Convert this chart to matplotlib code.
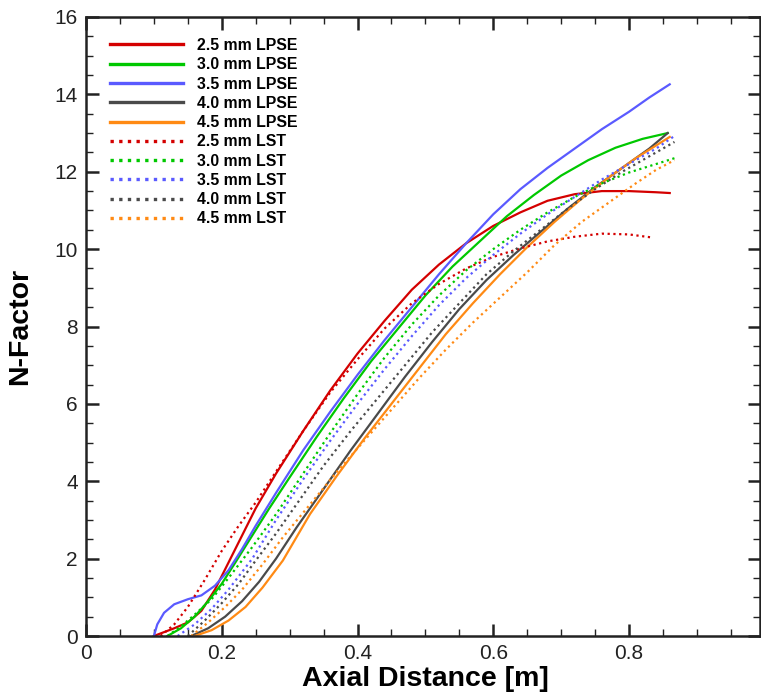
import matplotlib
matplotlib.use("Agg")

import matplotlib.pyplot as plt
from matplotlib.ticker import MultipleLocator

plt.rcParams["font.family"] = ["Liberation Sans", "DejaVu Sans"]

# ---- data (x in m, N-factor) ----
labels = ["2.5 mm", "3.0 mm", "3.5 mm", "4.0 mm", "4.5 mm"]
colors = ["#d40000", "#00c800", "#5a5aff", "#4a4a4a", "#ff8a14"]

# LPSE (solid)
lpse_x = [
    [0.10, 0.13, 0.15, 0.17, 0.19, 0.21, 0.23, 0.25, 0.28, 0.32, 0.36, 0.40, 0.44,
     0.48, 0.52, 0.56, 0.60, 0.64, 0.68, 0.72, 0.76, 0.80, 0.84, 0.86],
    [0.12, 0.14, 0.16, 0.18, 0.20, 0.22, 0.245, 0.27, 0.30, 0.34, 0.38, 0.42, 0.46,
     0.50, 0.54, 0.58, 0.62, 0.66, 0.70, 0.74, 0.78, 0.82, 0.857],
    [0.10, 0.105, 0.115, 0.13, 0.15, 0.17, 0.19, 0.21, 0.23, 0.25, 0.28, 0.32, 0.36,
     0.40, 0.44, 0.48, 0.52, 0.56, 0.60, 0.64, 0.68, 0.72, 0.76, 0.80, 0.83, 0.86],
    [0.155, 0.18, 0.205, 0.23, 0.255, 0.28, 0.31, 0.35, 0.39, 0.43, 0.47, 0.51, 0.55,
     0.59, 0.63, 0.67, 0.71, 0.75, 0.79, 0.83, 0.857],
    [0.16, 0.185, 0.21, 0.235, 0.26, 0.29, 0.33, 0.37, 0.41, 0.45, 0.49, 0.53, 0.57,
     0.61, 0.65, 0.69, 0.73, 0.77, 0.81, 0.86],
]
lpse_n = [
    [0.0, 0.2, 0.35, 0.65, 1.2, 1.9, 2.6, 3.3, 4.2, 5.3, 6.35, 7.3, 8.15,
     8.95, 9.6, 10.15, 10.6, 10.95, 11.25, 11.42, 11.5, 11.5, 11.47, 11.45],
    [0.0, 0.2, 0.5, 0.9, 1.35, 1.9, 2.6, 3.3, 4.1, 5.15, 6.15, 7.1, 7.95,
     8.8, 9.55, 10.2, 10.85, 11.4, 11.9, 12.3, 12.62, 12.85, 13.0],
    [0.0, 0.3, 0.6, 0.82, 0.95, 1.05, 1.3, 1.7, 2.25, 2.85, 3.7, 4.8, 5.8,
     6.75, 7.65, 8.5, 9.35, 10.15, 10.9, 11.55, 12.1, 12.6, 13.1, 13.55, 13.92, 14.26],
    [0.0, 0.2, 0.5, 0.9, 1.4, 2.0, 2.8, 3.8, 4.8, 5.75, 6.7, 7.6, 8.45,
     9.2, 9.85, 10.45, 11.05, 11.6, 12.1, 12.6, 13.0],
    [0.0, 0.15, 0.4, 0.75, 1.25, 1.95, 3.15, 4.15, 5.1, 6.0, 6.9, 7.8, 8.6,
     9.35, 10.05, 10.7, 11.3, 11.85, 12.35, 12.9],
]

# LST (dotted)
lst_x = [
    [0.11, 0.13, 0.15, 0.175, 0.20, 0.225, 0.25, 0.28, 0.32, 0.36, 0.40, 0.44, 0.48,
     0.52, 0.56, 0.60, 0.64, 0.68, 0.72, 0.76, 0.80, 0.834],
    [0.12, 0.14, 0.16, 0.185, 0.21, 0.245, 0.28, 0.32, 0.36, 0.40, 0.44, 0.48, 0.52,
     0.56, 0.60, 0.64, 0.68, 0.72, 0.76, 0.80, 0.84, 0.867],
    [0.135, 0.16, 0.185, 0.21, 0.245, 0.28, 0.32, 0.36, 0.40, 0.44, 0.48, 0.52, 0.56,
     0.60, 0.64, 0.68, 0.72, 0.76, 0.80, 0.84, 0.865],
    [0.15, 0.175, 0.20, 0.225, 0.25, 0.28, 0.31, 0.35, 0.39, 0.43, 0.47, 0.51, 0.55,
     0.59, 0.63, 0.67, 0.71, 0.75, 0.79, 0.83, 0.867],
    [0.155, 0.18, 0.205, 0.23, 0.26, 0.29, 0.33, 0.37, 0.41, 0.45, 0.49, 0.53, 0.57,
     0.61, 0.65, 0.69, 0.73, 0.77, 0.81, 0.84, 0.867],
]
lst_n = [
    [0.0, 0.3, 0.75, 1.45, 2.2, 2.85, 3.45, 4.25, 5.3, 6.3, 7.15, 7.95, 8.6,
     9.1, 9.5, 9.8, 10.02, 10.2, 10.32, 10.4, 10.38, 10.3],
    [0.0, 0.25, 0.55, 0.95, 1.5, 2.3, 3.15, 4.2, 5.25, 6.25, 7.2, 8.05, 8.8,
     9.45, 10.0, 10.5, 10.95, 11.35, 11.7, 11.98, 12.2, 12.35],
    [0.0, 0.3, 0.7, 1.2, 2.0, 3.0, 4.05, 5.05, 6.0, 6.9, 7.75, 8.55, 9.25,
     9.85, 10.4, 10.9, 11.35, 11.8, 12.2, 12.6, 12.9],
    [0.0, 0.4, 0.85, 1.35, 1.95, 2.65, 3.4, 4.4, 5.3, 6.15, 7.0, 7.85, 8.6,
     9.35, 9.95, 10.5, 11.05, 11.55, 12.0, 12.4, 12.77],
    [0.0, 0.35, 0.75, 1.2, 1.85, 2.55, 3.4, 4.25, 5.05, 5.85, 6.65, 7.4, 8.1,
     8.75, 9.4, 10.1, 10.7, 11.2, 11.7, 12.05, 12.3],
]

# ---- figure ----
fig = plt.figure(figsize=(7.61, 6.94), dpi=100)
ax = fig.add_axes([86 / 761, 58 / 694, 674 / 761, 619 / 694])

for i in range(5):
    ax.plot(lpse_x[i], lpse_n[i], color=colors[i], lw=1.6, solid_joinstyle="round",
            label=f"{labels[i]} LPSE")
for i in range(5):
    ax.plot(lst_x[i], lst_n[i], color=colors[i], lw=1.6, ls=(0, (1, 1.6)),
            label=f"{labels[i]} LST")

ax.set_xlim(0, 0.993)
ax.set_ylim(0, 16)
ax.xaxis.set_major_locator(MultipleLocator(0.2))
ax.xaxis.set_minor_locator(MultipleLocator(0.05))
ax.yaxis.set_major_locator(MultipleLocator(2))
ax.yaxis.set_minor_locator(MultipleLocator(0.5))
ax.set_xticks([0, 0.2, 0.4, 0.6, 0.8])
ax.set_xticklabels(["0", "0.2", "0.4", "0.6", "0.8"])

ax.tick_params(which="both", direction="in", top=True, right=True,
               labelsize=15, colors="#222222")
ax.tick_params(which="major", length=9, width=1.8, pad=6)
ax.tick_params(which="minor", length=5, width=1.0)
for sp in ax.spines.values():
    sp.set_linewidth(1.8)
    sp.set_color("#222222")

ax.set_xlabel("Axial Distance [m]", fontsize=20.5, fontweight="bold")
ax.set_ylabel("N-Factor", fontsize=20.5, fontweight="bold")
ax.xaxis.set_label_coords(0.503, -30 / 619)
ax.yaxis.set_label_coords(-53 / 674, 0.5)

leg = ax.legend(loc="upper left", bbox_to_anchor=(24 / 674, 1 - 21 / 619),
                frameon=False, borderaxespad=0, borderpad=0,
                prop={"size": 11.4, "weight": "bold"},
                handlelength=4.6, handletextpad=0.9, labelspacing=0.27)
for line in leg.get_lines():
    line.set_linewidth(2.4)

fig.savefig("out.png", dpi=100)
